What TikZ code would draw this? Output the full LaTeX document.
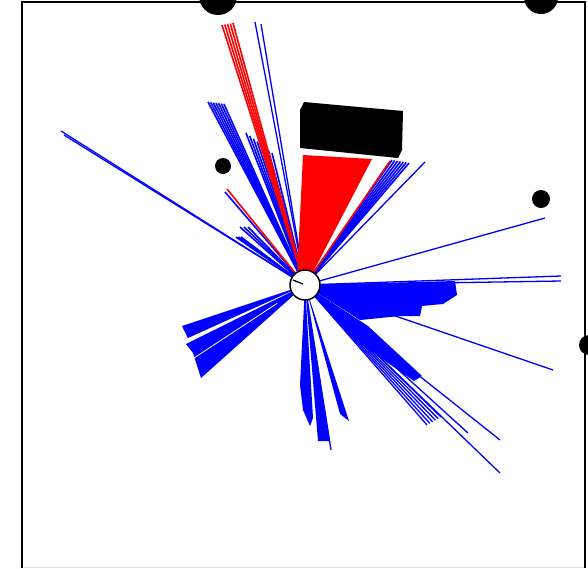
\documentclass[tikz,border=0pt]{standalone}
\usetikzlibrary{calc}
\definecolor{sblue}{RGB}{0,0,255}
\definecolor{sred}{RGB}{255,0,0}
\newcommand{\rayfan}[4]{%
  \foreach \k in {0,...,#4}{\draw[#1] (O) -- ($(#2)!{\k/#4}!(#3)$);}}
\begin{document}
\begin{tikzpicture}[x=1pt,y=-1pt,
  bray/.style={draw=sblue,line width=1.6pt},
  thinray/.style={draw=sblue,line width=1.3pt},
  rray/.style={draw=sred,line width=1.6pt},
  gapray/.style={draw=white,line width=0.8pt},
  bwedge/.style={fill=sblue},
  rwedge/.style={fill=sred},
  obst/.style={fill=black},
  framel/.style={draw=black,line width=2pt},
  robot/.style={draw=black,fill=white,line width=1.5pt}]
\useasboundingbox (0,0) rectangle (588,568);
\begin{scope}
\clip (0,0) rectangle (588,568);
\coordinate (O) at (305,285);
% frame
\draw[black!12,line width=1pt] (21.5,567) -- (585,567);
\draw[framel] (21.5,568) -- (21.5,1.5) -- (585,1.5) -- (585,568);
% blue rays, upper left
\draw[thinray] (O) -- (61,131);
\draw[thinray] (O) -- (64,135);
\rayfan{bray}{208,102}{224,104}{6}
\rayfan{bray}{246,133}{272,153}{7}
\rayfan{thinray}{255,22}{261,24}{1}
\rayfan{bray}{240,227}{248,227}{2}
\rayfan{bray}{236,237}{241,237}{2}
\draw[bray] (O) -- (225,192);
% red rays, upper left
\rayfan{rray}{222,25}{233,23}{4}
\draw[rray] (O) -- (227,189);
% upper right
\fill[rwedge] (303,155) -- (372,159) -- (310,278) -- (297,278) -- cycle;
\rayfan{bray}{392,160}{409,163}{6}
\draw[rray] (O) -- (390,161);
\draw[thinray] (O) -- (425,162);
% right
\draw[thinray] (O) -- (545,218);
\draw[thinray] (O) -- (561,276);
\draw[thinray] (O) -- (561,281);
\fill[bwedge] (O) -- (455,281) -- (457,295) -- (443,304) -- (422,306) -- (420,316) -- (400,316) -- (360,320) -- cycle;
\draw[thinray] (O) -- (553,370);
\fill[bwedge] (O) -- (368,326) -- (422,376) -- (414,381) -- (352,338) -- cycle;
\draw[thinray] (O) -- (468,433);
\draw[thinray] (O) -- (500,440);
\draw[thinray] (O) -- (500,473);
\rayfan{thinray}{427,425}{441,417}{5}
% down
\fill[bwedge] (O) -- (300,385) -- (303,410) -- (310,426) -- (313,418) -- cycle;
\fill[bwedge] (O) -- (318,441) -- (330,441) -- cycle;
\draw[thinray] (O) -- (331,450);
\fill[bwedge] (O) -- (340,414) -- (349,421) -- cycle;
% lower left
\fill[bwedge] (O) -- (182,326) -- (188,338) -- cycle;
\fill[bwedge] (O) -- (186,344) -- (193,353) -- (201,378) -- cycle;
\draw[gapray] ($(O)!0.25!(194,358)$) -- (194,358);
% obstacles
\fill[obst] (304,102) -- (403,111) -- (402,150) -- (398,158) -- (300,148) -- (300,110) -- cycle;
\fill[obst] (223,166) circle (8);
\fill[obst] (541,199) circle (9);
\fill[obst] (218,-4) circle (19);
\fill[obst] (541,-3) circle (17);
\fill[obst] (589,345) circle (10);
% robot
\draw[robot] (O) circle (15);
\draw[line width=1.3pt] (293,280) -- (303,284);
\end{scope}
\end{tikzpicture}
\end{document}
